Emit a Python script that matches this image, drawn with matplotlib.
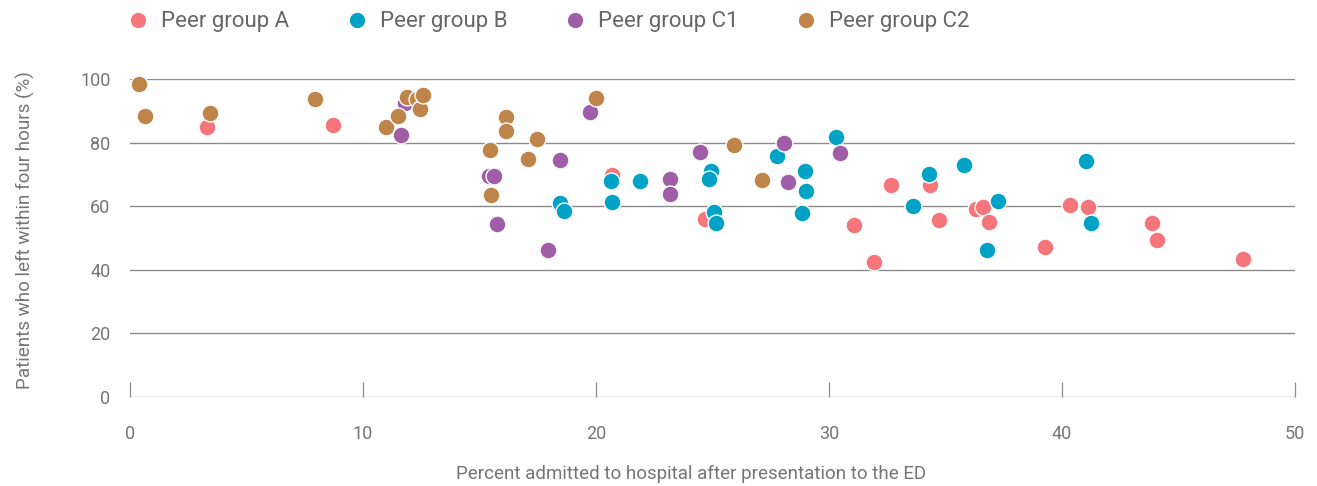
import matplotlib
matplotlib.use("Agg")
import matplotlib.pyplot as plt
from matplotlib.lines import Line2D

# ---- data ----
groups = ["Peer group A", "Peer group B", "Peer group C1", "Peer group C2"]
colors = ["#F4767A", "#00A3C6", "#A05EA8", "#BE844A"]

a_x = [3.29, 8.73, 20.67, 24.69, 31.07, 31.93, 32.68, 34.35, 34.74, 36.31, 36.59, 36.87, 39.26, 40.36, 41.10, 43.85, 44.06, 47.78]
a_y = [85.0, 85.5, 69.9, 56.1, 54.2, 42.4, 66.7, 66.7, 55.8, 59.2, 59.8, 55.1, 47.2, 60.4, 59.8, 54.8, 49.5, 43.3]

b_x = [18.44, 18.64, 20.63, 20.67, 21.90, 24.94, 24.84, 25.05, 25.15, 27.77, 28.97, 29.01, 28.84, 30.29, 33.62, 34.28, 35.78, 37.25, 36.77, 41.04, 41.26]
b_y = [61.0, 58.5, 68.1, 61.5, 68.1, 71.2, 68.5, 58.3, 54.9, 75.9, 71.1, 64.9, 58.0, 81.8, 60.0, 70.1, 72.9, 61.8, 46.2, 74.4, 54.8]

c1_x = [11.82, 11.63, 15.42, 15.62, 15.75, 18.45, 17.93, 19.73, 23.18, 23.18, 24.48, 28.05, 28.24, 30.46]
c1_y = [92.6, 82.4, 69.7, 69.7, 54.6, 74.7, 46.2, 89.7, 68.6, 63.8, 77.0, 79.9, 67.7, 76.8]

c2_x = [0.40, 0.64, 3.42, 7.95, 10.97, 11.49, 11.87, 12.33, 12.45, 12.59, 15.45, 15.48, 16.14, 16.14, 17.45, 17.10, 19.99, 25.91, 27.11]
c2_y = [98.4, 88.4, 89.3, 93.8, 85.0, 88.6, 94.3, 93.8, 90.6, 95.2, 77.6, 63.7, 88.0, 83.7, 81.3, 75.0, 94.2, 79.4, 68.3]

x_ticks = [0, 10, 20, 30, 40, 50]
y_ticks = [0, 20, 40, 60, 80, 100]
x_label = "Percent admitted to hospital after presentation to the ED"
y_label = "Patients who left within four hours (%)"

series = [(a_x, a_y), (b_x, b_y), (c1_x, c1_y), (c2_x, c2_y)]

# ---- style ----
plt.rcParams["font.family"] = ["Roboto", "DejaVu Sans"]
text_col = "#757575"
grid_col = "#8c8c8c"

fig = plt.figure(figsize=(13.17, 4.86), dpi=100)
ax = fig.add_axes([130 / 1317, 1 - 397 / 486, (1295 - 130) / 1317, (397 - 79.3) / 486])

for (xs, ys), c, g in zip(series, colors, groups):
    ax.scatter(xs, ys, s=148, color=c, edgecolors="white", linewidths=1.0,
               clip_on=False, zorder=3, label=g)

ax.set_xlim(0, 50)
ax.set_ylim(0, 100)

for s in ax.spines.values():
    s.set_visible(False)

for yv in y_ticks:
    ax.axhline(yv, color=grid_col, lw=1.0, zorder=1)

ax.set_xticks(x_ticks)
ax.set_yticks(y_ticks)
ax.tick_params(axis="x", direction="in", length=11, width=0.9, color=grid_col,
               labelcolor=text_col, labelsize=13, pad=20)
ax.tick_params(axis="y", length=0, labelcolor=text_col, labelsize=13, pad=14)

ax.set_xlabel(x_label, color=text_col, fontsize=13.5)
ax.xaxis.set_label_coords(0.482, -0.215)
ax.set_ylabel(y_label, color=text_col, fontsize=13.6)
ax.yaxis.set_label_coords(-0.0815, 0.526)

handles = [Line2D([], [], marker="o", linestyle="none", markersize=12,
                  markerfacecolor=c, markeredgecolor="white") for c in colors]
leg = fig.legend(handles, groups, ncol=4, loc="center left",
                 bbox_to_anchor=(125 / 1317, 1 - 22 / 486), frameon=False,
                 fontsize=16, handletextpad=0.42, columnspacing=2.46,
                 handlelength=1.2, borderaxespad=0, borderpad=0)
for t in leg.get_texts():
    t.set_color("#666666")

fig.savefig("out.png", dpi=100)
